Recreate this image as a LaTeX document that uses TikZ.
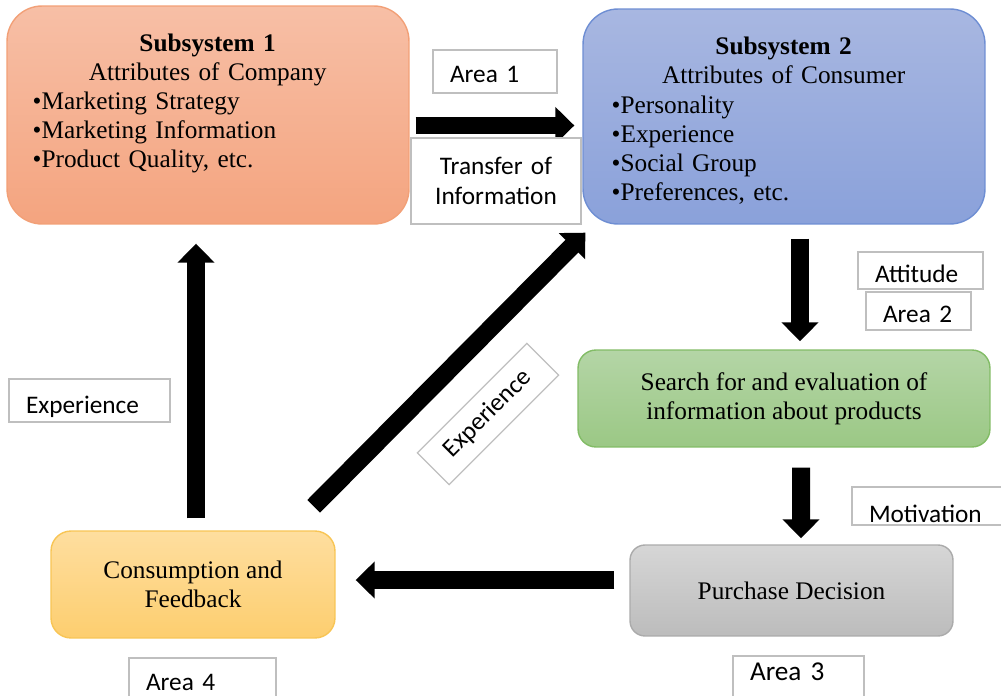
\documentclass[tikz,border=0pt]{standalone}
\usepackage{fontspec}
\setmainfont{Liberation Serif}
\newfontfamily\tagfont{Carlito}
\usetikzlibrary{arrows.meta,positioning}
\definecolor{subAtop}{HTML}{F7BFA6}
\definecolor{subAbot}{HTML}{F4A47F}
\definecolor{subAline}{HTML}{F2A077}
\definecolor{subBtop}{HTML}{A8B7E1}
\definecolor{subBbot}{HTML}{8AA1DA}
\definecolor{subBline}{HTML}{6E8ED3}
\definecolor{greentop}{HTML}{B4D5A6}
\definecolor{greenbot}{HTML}{9BC885}
\definecolor{greenline}{HTML}{82BC66}
\definecolor{purtop}{HTML}{D6D6D6}
\definecolor{purbot}{HTML}{BCBCBC}
\definecolor{purline}{HTML}{ABABAB}
\definecolor{constop}{HTML}{FEDE9F}
\definecolor{consbot}{HTML}{FDCE6F}
\definecolor{consline}{HTML}{F8C555}
\definecolor{tagline}{HTML}{BFBFBF}
\newcommand{\bodysize}{\fontsize{14.4}{16.6}\selectfont}
\newcommand{\bul}[1]{\makebox[\hsize][l]{•#1}}

\begin{document}
\begin{tikzpicture}[x=0.02cm, y=-0.02cm,
    box/.style={draw, line width=0.8pt, font=\bodysize, align=center},
    subtext/.style={anchor=north west, inner sep=0pt, align=center, font=\bodysize},
    tag/.style={draw=tagline, fill=white, line width=0.7pt, inner xsep=0.34cm,
      inner ysep=0pt, align=left, font=\tagfont\bodysize},
    bigarrow/.style={line width=0.36cm, -{Triangle[length=0.38cm, width=0.72cm]}}]

    \useasboundingbox (0,0) rectangle (1001,696);
    \clip (0,0) rectangle (1001,696);

    % the five blocks
    \node[box, draw=subAline, top color=subAtop, bottom color=subAbot, rounded corners=0.7cm,
      minimum width=8.04cm, minimum height=4.36cm] (sub1) at (208,115) {};
    \node[subtext, text width=7cm] (sub1txt) at ([shift={(26,28)}]sub1.north west)
      {\textbf{Subsystem 1}\\ Attributes of Company\\
       \bul{Marketing Strategy}\\ \bul{Marketing Information}\\ \bul{Product Quality, etc.}};
    \node[box, draw=subBline, top color=subBtop, bottom color=subBbot, rounded corners=0.7cm,
      minimum width=8.04cm, minimum height=4.3cm] (sub2) at (784,116.5) {};
    \node[subtext, text width=6.88cm] (sub2txt) at ([shift={(29,28.5)}]sub2.north west)
      {\textbf{Subsystem 2}\\ Attributes of Consumer\\
       \bul{Personality}\\ \bul{Experience}\\ \bul{Social Group}\\ \bul{Preferences, etc.}};
    \node[box, draw=greenline, top color=greentop, bottom color=greenbot, rounded corners=0.36cm,
      minimum width=8.24cm, minimum height=1.94cm] (search) at (784,398.5)
      {Search for and evaluation of\\ information about products};
    \node[box, draw=purline, top color=purtop, bottom color=purbot, rounded corners=0.3cm,
      minimum width=6.46cm, minimum height=1.82cm] (purchase) at (791.5,590.5) {Purchase Decision};
    \node[box, draw=consline, top color=constop, bottom color=consbot, rounded corners=0.4cm,
      minimum width=5.68cm, minimum height=2.14cm] (consume) at (193,584.5)
      {Consumption and\\ Feedback};

    % block arrows
    \draw[bigarrow] ([shift={(6,10.5)}]sub1.east) -- ([shift={(-8,9)}]sub2.west);
    \draw[bigarrow] ([shift={(16,14)}]sub2.south) -- ([shift={(16,-8)}]search.north);
    \draw[bigarrow] ([shift={(17,20)}]search.south) -- ([shift={(9.5,-6)}]purchase.north);
    \draw[bigarrow] ([shift={(-15,-10.5)}]purchase.west) -- ([shift={(20,-4.5)}]consume.east);
    \draw[bigarrow] ([shift={(3,-12)}]consume.north) -- ([shift={(-12,19)}]sub1.south);
    \draw[bigarrow] ([shift={(-22,-24)}]consume.north east) -- ([shift={(3,8)}]sub2.south west);

    % labels
    \node[tag, text width=1.8cm, text height=0.66cm, text depth=0.2cm] (area1) at (495,71.5) {Area 1};
    \node[tag, text width=2.72cm, align=center, minimum height=1.72cm] (transfer) at (496,181)
      {Transfer of\\ Information};
    \node[tag, text width=1.82cm, text height=0.62cm, text depth=0.12cm] (attitude) at (920.5,270.5) {Attitude};
    \node[tag, text width=1.42cm, text height=0.62cm, text depth=0.14cm] (area2) at (918.5,311) {Area 2};
    \node[tag, text width=2.54cm, text height=0.68cm, text depth=0.18cm] (expleft) at (89.5,400.5) {Experience};
    \node[tag, text width=2.42cm, align=center, minimum height=0.9cm, rotate=45] (expdiag) at (488,414) {Experience};
    \node[tag, text width=2.48cm, text height=0.7cm, text depth=0.06cm] (motiv) at (931,506) {Motivation};
    \node[tag, text width=2.26cm, text height=0.64cm, text depth=0.36cm] (area4) at (202.5,683) {Area 4};
    \node[tag, text width=1.94cm, text height=0.48cm, text depth=0.48cm, font=\tagfont\fontsize{15.5}{18}\selectfont] (area3) at (798.5,680) {Area 3};

\end{tikzpicture}
\end{document}
